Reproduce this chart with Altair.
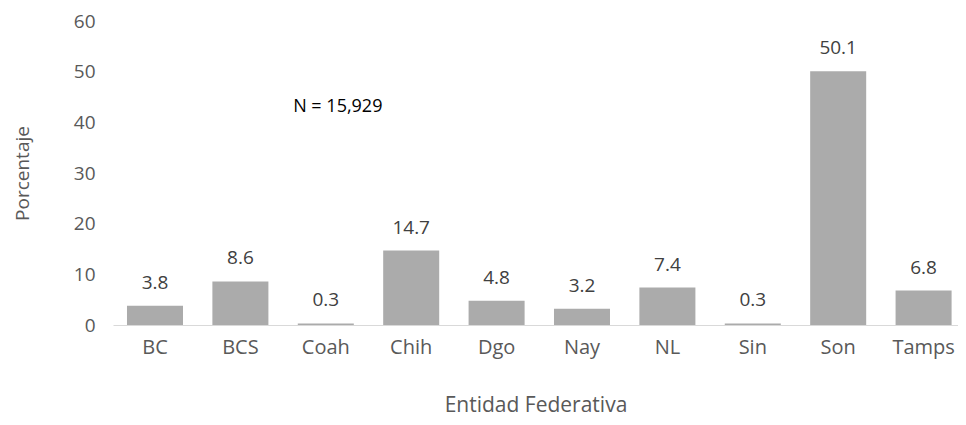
import altair as alt
import pandas as pd

estados = ["BC", "BCS", "Coah", "Chih", "Dgo", "Nay", "NL", "Sin", "Son", "Tamps"]
porcentajes = [3.8, 8.6, 0.3, 14.7, 4.8, 3.2, 7.4, 0.3, 50.1, 6.8]
etiquetas = ["3.8", "8.6", "0.3", "14.7", "4.8", "3.2", "7.4", "0.3", "50.1", "6.8"]
y_ticks = [0, 10, 20, 30, 40, 50, 60]

nota_texto = ["N = 15,929"]
nota_estado = ["Coah"]
nota_y = [42.0]

df = pd.DataFrame({"Entidad": estados, "Porcentaje": porcentajes, "Etiqueta": etiquetas})
nota = pd.DataFrame({"Entidad": nota_estado, "y": nota_y, "t": nota_texto})

FONT = "Open Sans"
GRAY = "#595959"

x_scale = alt.Scale(paddingInner=0.344, paddingOuter=0.1194, align=0.686)
y_scale = alt.Scale(domain=[0, 60], nice=False)

x_enc = alt.X("Entidad:N", sort=estados, title="Entidad Federativa", scale=x_scale)
y_enc = alt.Y(
    "Porcentaje:Q",
    scale=y_scale,
    title="Porcentaje",
    axis=alt.Axis(values=y_ticks),
)

bars = alt.Chart(df).mark_bar(color="#ababab").encode(x=x_enc, y=y_enc)

labels = alt.Chart(df).mark_text(
    font=FONT, fontSize=19, color="#404040", baseline="alphabetic", dy=-17
).encode(x=x_enc, y=y_enc, text="Etiqueta:N")

note = alt.Chart(nota).mark_text(
    font=FONT, fontSize=18, color="#000000", baseline="alphabetic", dx=12
).encode(
    x=x_enc,
    y=alt.Y("y:Q", scale=y_scale, title="Porcentaje", axis=alt.Axis(values=y_ticks)),
    text="t:N",
)

chart = (
    alt.layer(bars, labels, note)
    .properties(
        width=845,
        height=304,
        background="white",
        autosize=alt.AutoSizeParams(type="none"),
        padding={"left": 105, "top": 13, "right": 0, "bottom": 92},
    )
    .configure_view(strokeWidth=0, stroke="transparent")
    .configure_axis(
        grid=False,
        ticks=False,
        tickSize=0,
        labelFont=FONT,
        labelColor=GRAY,
        titleFont=FONT,
        titleFontWeight="normal",
        titleColor=GRAY,
        titleBaseline="alphabetic",
    )
    .configure_axisX(
        labelAngle=0,
        labelFontSize=20,
        labelPadding=12,
        domainColor="#d9d9d9",
        domainWidth=1,
        titleFontSize=21,
        titleY=86,
    )
    .configure_axisY(
        domain=False,
        labelFontSize=19,
        labelPadding=18,
        titleFontSize=19,
        titleX=-85,
    )
)

chart.save("out.html", embed_options={"renderer": "svg", "actions": False})
